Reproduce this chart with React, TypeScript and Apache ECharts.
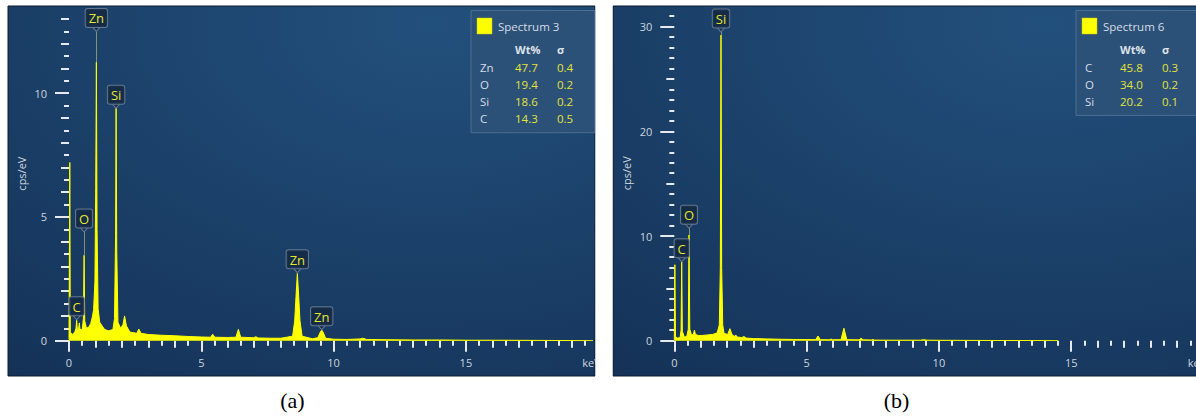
import React, { useEffect, useRef } from "react";
import * as echarts from "echarts";

// ---------- data ----------
// Spectrum 3 (panel a): [keV, cps/eV]
const spectrumA: [number, number][] = [
  [0, 0.05], [0.03, 7.2], [0.05, 0.35], [0.12, 0.25], [0.22, 0.35], [0.265, 0.5],
  [0.29, 0.83], [0.315, 0.45], [0.36, 0.45], [0.39, 0.72], [0.415, 0.45], [0.5, 0.45],
  [0.545, 0.9], [0.57, 3.45], [0.595, 0.8], [0.66, 0.5], [0.75, 0.55], [0.82, 0.7],
  [0.88, 0.95], [0.93, 1.25], [0.98, 2.4], [1.01, 6.2], [1.035, 11.25], [1.06, 4.5],
  [1.1, 1.3], [1.16, 0.75], [1.25, 0.6], [1.35, 0.45], [1.5, 0.4], [1.66, 0.45],
  [1.72, 0.9], [1.76, 4.2], [1.78, 9.4], [1.805, 3.6], [1.85, 0.75], [1.95, 0.5],
  [2.04, 0.65], [2.1, 1.0], [2.17, 0.6], [2.3, 0.35], [2.56, 0.3], [2.64, 0.47],
  [2.72, 0.3], [3.0, 0.25], [3.5, 0.22], [4.0, 0.2], [4.5, 0.17], [5.0, 0.15],
  [5.35, 0.14], [5.43, 0.26], [5.51, 0.14], [6.0, 0.13], [6.31, 0.14], [6.4, 0.46],
  [6.49, 0.14], [6.97, 0.12], [7.06, 0.16], [7.15, 0.11], [7.6, 0.1], [8.0, 0.1],
  [8.45, 0.18], [8.53, 0.8], [8.58, 1.8], [8.63, 2.72], [8.68, 1.8], [8.73, 0.8],
  [8.81, 0.18], [9.2, 0.08], [9.4, 0.12], [9.5, 0.35], [9.55, 0.43], [9.6, 0.35],
  [9.7, 0.1], [10.0, 0.06], [10.5, 0.05], [11.0, 0.07], [11.1, 0.1], [11.25, 0.05],
  [12.0, 0.04], [13.0, 0.03], [14.0, 0.03], [15.0, 0.02], [16.0, 0.02], [17.0, 0.015],
  [18.0, 0.01], [19.0, 0.005], [19.8, 0],
];

// Spectrum 6 (panel b): [keV, cps/eV]
const spectrumB: [number, number][] = [
  [0, 0.1], [0.02, 7.26], [0.045, 0.4], [0.12, 0.25], [0.22, 0.3], [0.255, 1.0],
  [0.28, 7.55], [0.305, 0.9], [0.38, 0.35], [0.47, 0.4], [0.53, 1.1], [0.556, 10.1],
  [0.585, 1.1], [0.65, 0.55], [0.72, 0.6], [0.76, 1.0], [0.8, 0.6], [0.9, 0.5],
  [1.05, 0.5], [1.25, 0.55], [1.45, 0.6], [1.62, 0.75], [1.7, 1.5], [1.74, 7.0],
  [1.765, 29.2], [1.79, 7.0], [1.83, 1.5], [1.88, 0.7], [2.02, 0.6], [2.1, 1.15],
  [2.18, 0.6], [2.27, 0.4], [2.32, 0.55], [2.38, 0.35], [2.55, 0.3], [2.63, 0.4],
  [2.72, 0.25], [3.0, 0.2], [3.5, 0.17], [4.0, 0.14], [4.5, 0.12], [5.0, 0.11],
  [5.34, 0.1], [5.43, 0.45], [5.52, 0.1], [5.86, 0.09], [5.92, 0.16], [5.98, 0.09],
  [6.3, 0.1], [6.41, 1.19], [6.52, 0.1], [6.98, 0.08], [7.06, 0.23], [7.14, 0.08],
  [7.45, 0.07], [7.5, 0.12], [7.56, 0.06], [8.0, 0.05], [8.6, 0.05], [9.3, 0.05],
  [9.42, 0.1], [9.55, 0.05], [10.0, 0.04], [11.0, 0.03], [12.0, 0.02], [13.0, 0.015],
  [14.0, 0.01], [14.5, 0],
];

// peak labels
const peakElementsA = ["Zn", "Si", "O", "C", "Zn", "Zn"];
const peakEnergyA = [1.035, 1.78, 0.57, 0.29, 8.63, 9.55];
const peakTopA = [11.25, 9.4, 3.45, 0.83, 2.72, 0.43];
const labelTipA = [12.5, 9.4, 4.4, 0.85, 2.75, 0.45];

const peakElementsB = ["Si", "O", "C"];
const peakEnergyB = [1.765, 0.556, 0.28];
const peakTopB = [29.2, 10.1, 7.55];
const labelTipB = [29.5, 10.75, 7.55];

// quantification tables
const titleA = "Spectrum 3";
const tableElementsA = ["Zn", "O", "Si", "C"];
const tableWtA = ["47.7", "19.4", "18.6", "14.3"];
const tableSigmaA = ["0.4", "0.2", "0.2", "0.5"];

const titleB = "Spectrum 6";
const tableElementsB = ["C", "O", "Si"];
const tableWtB = ["45.8", "34.0", "20.2"];
const tableSigmaB = ["0.3", "0.2", "0.1"];

// axes
const xMax = 20;
const xMajorTicks = [0, 5, 10, 15, 20];
const xLabelValues = [0, 5, 10, 15, 19.75]; // unit label "keV" sits just left of the 20 keV tick
const yMaxA = 13.5;
const yMajorTicksA = [0, 5, 10];
const yMaxB = 32;
const yMajorTicksB = [0, 10, 20, 30];

const steps = (start: number, end: number, step: number, skip: (v: number) => boolean) => {
  const out: number[] = [];
  for (let i = 0; start + i * step <= end + 1e-9; i++) {
    const v = Math.round((start + i * step) * 100) / 100;
    if (!skip(v)) out.push(v);
  }
  return out;
};

const xMidTicks = steps(1, 19, 1, (v) => v % 5 === 0);
const xMinorTicks = steps(0.5, 19.5, 1, () => false);
const yMidTicksA = steps(1, 13, 1, (v) => v % 5 === 0);
const yMinorTicksA = steps(0.5, 12.5, 1, () => false);
const yMidTicksB = [5, 15, 25];
const yMinorTicksB = steps(1, 31, 1, (v) => v % 5 === 0);

// ---------- style ----------
const FONT = "Open Sans";
const TICK = "#e6eaef";
const LABEL = "#cdd5de";
const YELLOW = "#ffff00";
const VALUE_YELLOW = "#e2e23a";

const panelFill = () => ({
  type: "radial",
  x: 0.72,
  y: 0.05,
  r: 1.5,
  colorStops: [
    { offset: 0, color: "#22507c" },
    { offset: 1, color: "#112a4e" },
  ],
});

function App() {
  const ref = useRef<HTMLDivElement>(null);

  useEffect(() => {
    if (!ref.current) return;
    const chart = echarts.init(ref.current, undefined, { renderer: "svg" });

    const grids = [
      { left: 69, top: 340.7 - yMaxA * 24.75, width: 529.2, height: yMaxA * 24.75, outerBoundsMode: "none", containLabel: false },
      { left: 674.3, top: 340.7 - yMaxB * 10.467, width: 529.2, height: yMaxB * 10.467, outerBoundsMode: "none", containLabel: false },
    ];

    const makeX = (gridIndex: number, values: number[], len: number, labels: boolean) => ({
      gridIndex,
      type: "value",
      min: 0,
      max: xMax,
      position: "bottom",
      offset: 2.5,
      axisLine: { show: false },
      splitLine: { show: false },
      axisTick: { show: true, customValues: values, length: len, lineStyle: { color: TICK, width: 2 } },
      axisLabel: labels
        ? {
            show: true,
            customValues: xLabelValues,
            color: LABEL,
            fontSize: 11,
            fontFamily: FONT,
            margin: 14,
            hideOverlap: false,
            formatter: (v: number) => (v > 19 ? "keV" : String(v)),
          }
        : { show: false },
    });

    const makeY = (gridIndex: number, max: number, values: number[], len: number, labels: number[] | null) => ({
      gridIndex,
      type: "value",
      min: 0,
      max,
      position: "left",
      offset: 6,
      axisLine: { show: false },
      splitLine: { show: false },
      axisTick: { show: true, customValues: values, length: len, lineStyle: { color: TICK, width: 2 } },
      axisLabel: labels
        ? { show: true, customValues: labels, color: LABEL, fontSize: 11, fontFamily: FONT, margin: 16 }
        : { show: false },
      name: labels ? "cps/eV" : "",
      nameLocation: "middle",
      nameGap: 36,
      nameTextStyle: { color: LABEL, fontSize: 11, fontFamily: FONT },
    });

    const peakSeries = (
      data: [number, number][],
      xi: number,
      yi: number,
      els: string[],
      en: number[],
      top: number[],
      tip: number[]
    ) => ({
      type: "line",
      xAxisIndex: xi,
      yAxisIndex: yi,
      data,
      symbol: "none",
      smooth: false,
      lineStyle: { color: YELLOW, width: 1 },
      areaStyle: { color: YELLOW, opacity: 1 },
      z: 3,
      markLine: {
        silent: true,
        symbol: ["none", "none"],
        label: { show: false },
        lineStyle: { color: "rgba(200,200,130,0.6)", width: 1, type: "solid" },
        data: els.map((_, i) => [{ coord: [en[i], tip[i]] }, { coord: [en[i], top[i]] }]),
      },
      markPoint: {
        silent: true,
        symbol: "path://M0,0 L10,0 L5,6 Z",
        symbolSize: [9, 5],
        symbolOffset: [0, "-50%"],
        itemStyle: { color: "rgba(20,40,66,0.85)", borderColor: "#62778e", borderWidth: 1 },
        label: {
          show: true,
          position: "top",
          distance: -1,
          formatter: "{b}",
          color: "#e6e62e",
          fontSize: 13,
          fontFamily: FONT,
          backgroundColor: "rgba(20,40,66,0.85)",
          borderColor: "#62778e",
          borderWidth: 1,
          borderRadius: 2,
          padding: [3, 3, 2, 3],
        },
        data: els.map((el, i) => ({ name: el, coord: [en[i], tip[i]] })),
      },
    });

    const tableGraphics = (
      bx: number,
      title: string,
      els: string[],
      wt: string[],
      sg: string[],
      width: number
    ) => {
      const rowH = 17.3;
      const items: any[] = [
        {
          type: "rect",
          z: 50,
          shape: { x: bx, y: 10.5, width, height: 53 + els.length * rowH },
          style: { fill: "#2c5179", stroke: "#4d6e90", lineWidth: 1 },
        },
        {
          type: "rect",
          z: 51,
          shape: { x: bx + 6, y: 18, width: 15, height: 16 },
          style: { fill: YELLOW, stroke: "#c8c800", lineWidth: 0.5 },
        },
        {
          type: "text",
          z: 51,
          style: { text: title, x: bx + 27, y: 26, fill: "#d6dce4", fontSize: 11.5, fontFamily: FONT, verticalAlign: "middle" },
        },
        {
          type: "text",
          z: 51,
          style: { text: "Wt%", x: bx + 44, y: 49.5, fill: "#dde2e8", fontSize: 11, fontWeight: "bold", fontFamily: FONT, verticalAlign: "middle" },
        },
        {
          type: "text",
          z: 51,
          style: { text: "σ", x: bx + 86, y: 49.5, fill: "#dde2e8", fontSize: 11, fontWeight: "bold", fontFamily: FONT, verticalAlign: "middle" },
        },
      ];
      els.forEach((el, i) => {
        const y = 67 + i * rowH;
        items.push(
          { type: "text", z: 51, style: { text: el, x: bx + 9, y, fill: "#d6dce4", fontSize: 11.5, fontFamily: FONT, verticalAlign: "middle" } },
          { type: "text", z: 51, style: { text: wt[i], x: bx + 44, y, fill: VALUE_YELLOW, fontSize: 11.5, fontFamily: FONT, verticalAlign: "middle" } },
          { type: "text", z: 51, style: { text: sg[i], x: bx + 86, y, fill: VALUE_YELLOW, fontSize: 11.5, fontFamily: FONT, verticalAlign: "middle" } }
        );
      });
      return items;
    };

    const option: any = {
      animation: false,
      backgroundColor: "#ffffff",
      textStyle: { fontFamily: FONT },
      grid: grids,
      xAxis: [
        makeX(0, xMajorTicks, 11, true),
        makeX(0, xMidTicks, 7, false),
        makeX(0, xMinorTicks, 5, false),
        makeX(1, xMajorTicks, 11, true),
        makeX(1, xMidTicks, 7, false),
        makeX(1, xMinorTicks, 5, false),
      ],
      yAxis: [
        makeY(0, yMaxA, yMajorTicksA, 14, yMajorTicksA),
        makeY(0, yMaxA, yMidTicksA, 8, null),
        makeY(0, yMaxA, yMinorTicksA, 5, null),
        makeY(1, yMaxB, yMajorTicksB, 14, yMajorTicksB),
        makeY(1, yMaxB, yMidTicksB, 8, null),
        makeY(1, yMaxB, yMinorTicksB, 5, null),
      ],
      series: [
        peakSeries(spectrumA, 0, 0, peakElementsA, peakEnergyA, peakTopA, labelTipA),
        peakSeries(spectrumB, 3, 3, peakElementsB, peakEnergyB, peakTopB, labelTipB),
      ],
      graphic: [
        {
          type: "rect",
          z: -10,
          shape: { x: 8, y: 6, width: 587, height: 370 },
          style: { fill: panelFill(), stroke: "#0d1b2e", lineWidth: 1 },
        },
        {
          type: "rect",
          z: -10,
          shape: { x: 613, y: 6, width: 600, height: 370 },
          style: { fill: panelFill(), stroke: "#0d1b2e", lineWidth: 1 },
        },
        ...tableGraphics(471, titleA, tableElementsA, tableWtA, tableSigmaA, 124),
        ...tableGraphics(1076, titleB, tableElementsB, tableWtB, tableSigmaB, 130),
        {
          type: "rect",
          z: 100,
          shape: { x: 595.5, y: 0, width: 17, height: 419 },
          style: { fill: "#ffffff" },
        },
        {
          type: "text",
          z: 100,
          style: { text: "(a)", x: 292.5, y: 400, align: "center", verticalAlign: "middle", fill: "#000000", fontSize: 22, fontFamily: "Liberation Serif" },
        },
        {
          type: "text",
          z: 100,
          style: { text: "(b)", x: 896.5, y: 400, align: "center", verticalAlign: "middle", fill: "#000000", fontSize: 22, fontFamily: "Liberation Serif" },
        },
      ],
    };

    chart.setOption(option);
    return () => chart.dispose();
  }, []);

  return (
    <div
      ref={ref}
      style={{ position: "fixed", left: 0, top: 0, width: 1196, height: 419 }}
    />
  );
}

export default App;
